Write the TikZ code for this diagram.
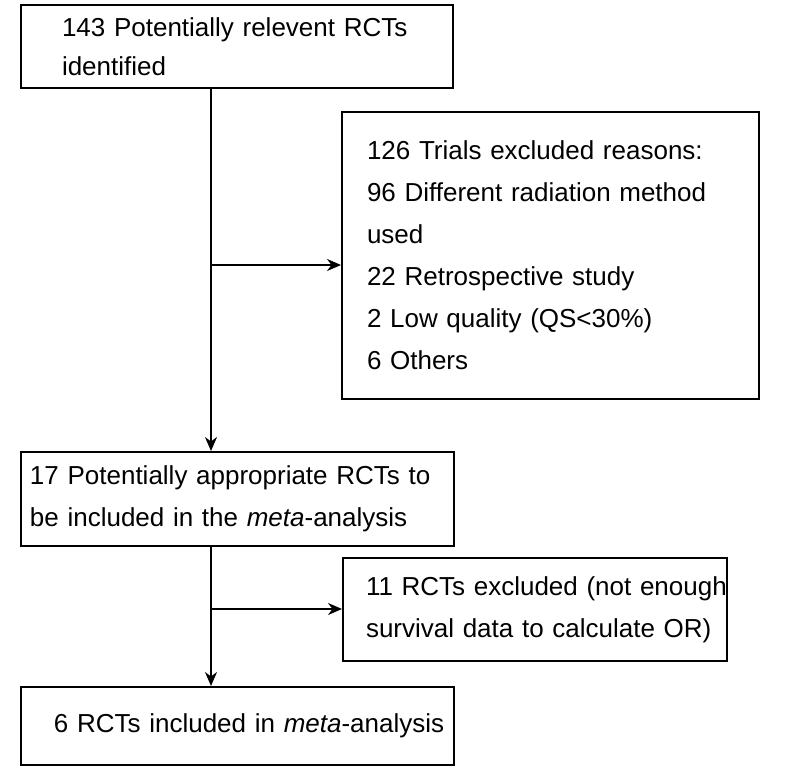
\documentclass[tikz,border=0pt]{standalone}
\usepackage{fontspec}
\setmainfont{Liberation Sans}
\usepackage{tikz}
\usetikzlibrary{arrows.meta}
\tikzstyle{arrow} = [line width=1pt,->,>={Stealth[length=7pt,width=6pt]}]
\tikzstyle{box} = [rectangle, draw=black, line width=1pt, anchor=north west, align=left, inner ysep=0pt, font=\fontsize{13}{21}\selectfont]

\begin{document}
\begin{tikzpicture}[x=0.5pt, y=-0.5pt]
        \useasboundingbox (0,0) rectangle (794,776);
        \node (found) [box, text width=175pt, inner xsep=20.5pt, minimum height=41.5pt, font=\fontsize{13}{19.5}\selectfont] at (20,4) {\mbox{143 Potentially relevent RCTs}\\identified};
        \node (excluded) [box, text width=183.5pt, inner xsep=12.5pt, minimum height=143.5pt] at (341,111) {126 Trials excluded reasons:\\96 Different radiation method\\used\\22 Retrospective study\\2 Low quality (QS<30\%)\\6 Others};
        \node (screened) [box, text width=207.5pt, inner xsep=4.5pt, minimum height=47pt] at (20,451) {\mbox{17 Potentially appropriate RCTs to}\\be included in the \textit{meta}-analysis};
        \node (lacking) [box, text width=169pt, inner xsep=11.5pt, minimum height=51.5pt] at (342,557) {\mbox{11 RCTs excluded (not enough}\\\mbox{survival data to calculate OR)}};
        \node (included) [box, text width=183.5pt, inner xsep=16.5pt, minimum height=39pt] at (20,686) {\mbox{6 RCTs included in \textit{meta}-analysis}};

        \coordinate (trunk) at (211,0);
        \coordinate (split1) at (211,265);
        \coordinate (split2) at (211,609);

        \draw [arrow] (found.south -| trunk) -- (screened.north -| trunk);
        \draw [arrow] (split1) -- (split1 -| excluded.west);
        \draw [arrow] (screened.south -| trunk) -- (included.north -| trunk);
        \draw [arrow] (split2) -- (split2 -| lacking.west);
    \end{tikzpicture}
\end{document}
